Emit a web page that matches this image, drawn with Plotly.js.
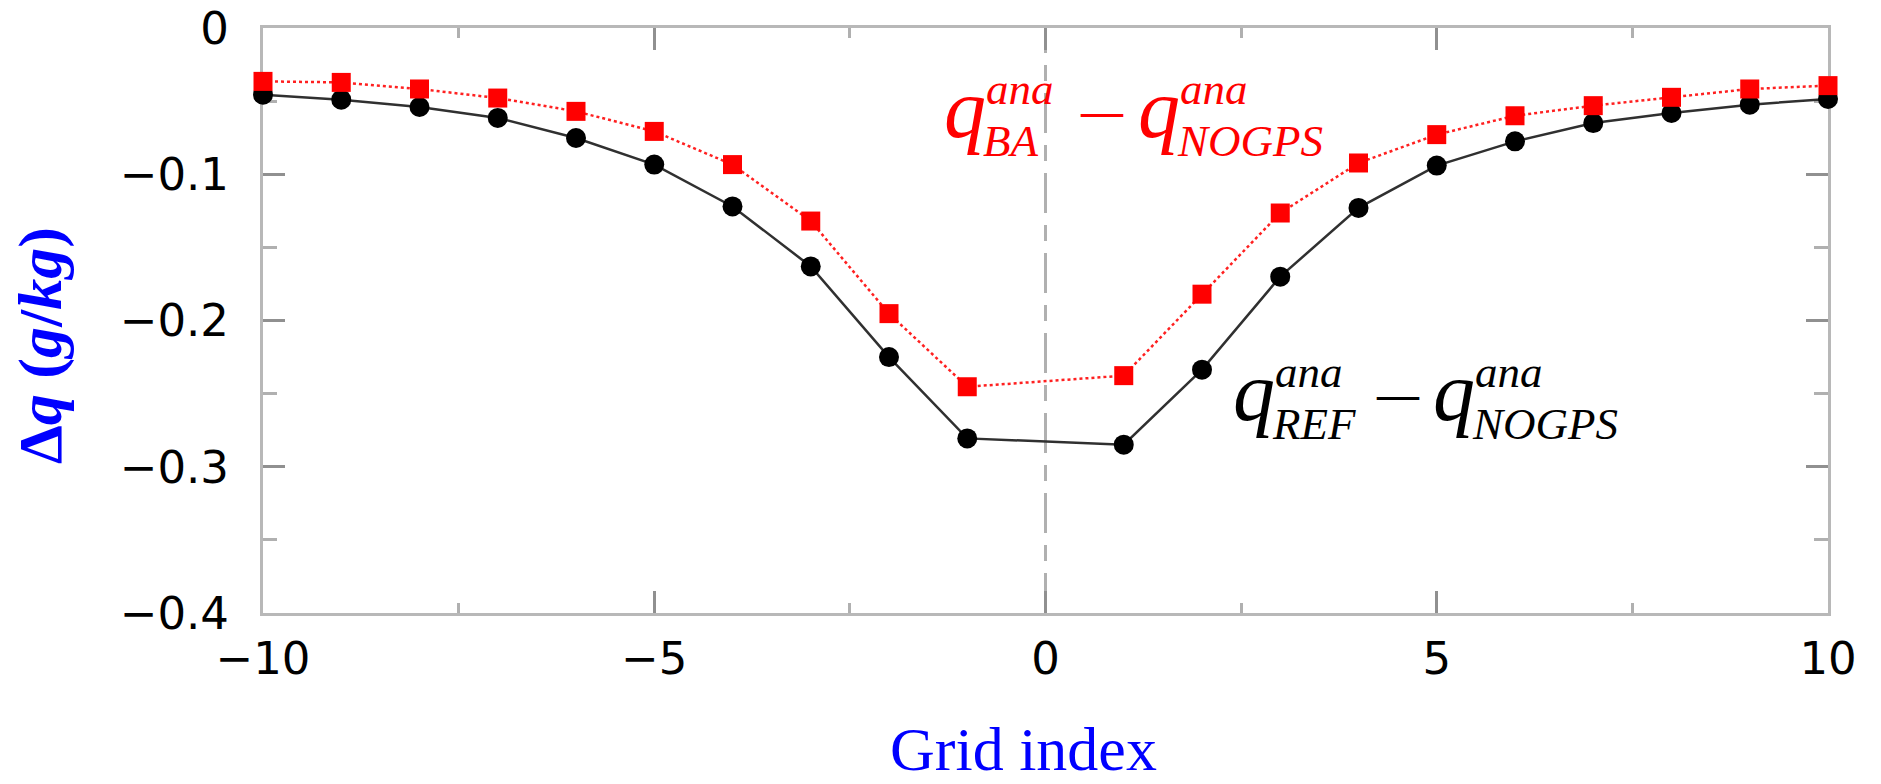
<!DOCTYPE html>
<html>
<head>
<meta charset="utf-8">
<script src="https://cdn.plot.ly/plotly-3.0.1.min.js"></script>
<style>
  html, body { margin: 0; padding: 0; background: #ffffff; }
  #chart { width: 1881px; height: 784px; }
</style>
</head>
<body>
<div id="chart"></div>
<script>
// ---- data ----
const gridIndex = [-10, -9, -8, -7, -6, -5, -4, -3, -2, -1, 1, 2, 3, 4, 5, 6, 7, 8, 9, 10];
const refMinusNogps = [-0.0456, -0.0490, -0.0540, -0.0615, -0.0752, -0.0934, -0.1220, -0.1630, -0.2250, -0.2806,
                       -0.2849, -0.2336, -0.1700, -0.1230, -0.0941, -0.0775, -0.0650, -0.0581, -0.0524, -0.0485];
const baMinusNogps  = [-0.0365, -0.0372, -0.0417, -0.0479, -0.0570, -0.0707, -0.0934, -0.1320, -0.1953, -0.2453,
                       -0.2377, -0.1820, -0.1265, -0.0923, -0.0729, -0.0600, -0.0531, -0.0474, -0.0417, -0.0394];
const centerLineX = 0;
const xTitle = 'Grid index';
const yTitle = '<b>\u0394<i>q</i> (<i>g</i>/<i>kg</i>)</b>';

// ---- label builder (stacked super/subscript made of separate text pieces) ----
const serif = 'Liberation Serif';
function piece(text, ax, ay, dx, yshift, size, color, italic) {
  return {
    x: ax, y: ay, xref: 'x', yref: 'y',
    text: italic ? '<i>' + text + '</i>' : text,
    showarrow: false, xanchor: 'left', yanchor: 'middle',
    xshift: dx, yshift: yshift, borderpad: 0,
    font: { family: serif, size: size, color: color }
  };
}
function diffLabel(ax, ay, color, sub1, sub2, minusDx, q2Dx) {
  const big = 84, small = 45, dash = 42;
  const base = (s) => 0.3375 * s;           // box centre above baseline
  return [
    piece('q', ax, ay, 0, base(big), big, color, true),
    piece('ana', ax, ay, 42, 33 + base(small), small, color, true),
    piece(sub1, ax, ay, 39, -19 + base(small), small, color, true),
    piece('<b>\u2014</b>', ax, ay, minusDx, 22 + base(dash) - 0.25 * dash, dash, color, false),
    piece('q', ax, ay, q2Dx, base(big), big, color, true),
    piece('ana', ax, ay, q2Dx + 42, 33 + base(small), small, color, true),
    piece(sub2, ax, ay, q2Dx + 39, -19 + base(small), small, color, true)
  ];
}

const traces = [
  {
    x: gridIndex, y: refMinusNogps, type: 'scatter', mode: 'lines+markers',
    line: { color: '#303030', width: 2.5 },
    marker: { symbol: 'circle', size: 20, color: '#000000' },
    cliponaxis: false, showlegend: false
  },
  {
    x: gridIndex, y: baMinusNogps, type: 'scatter', mode: 'lines+markers',
    line: { color: '#ff2020', width: 2.5, dash: '3px,3px' },
    marker: { symbol: 'square', size: 19, color: '#ff0000' },
    cliponaxis: false, showlegend: false
  }
];

const axisCommon = {
  showline: true, linecolor: '#b8b8b8', linewidth: 3, mirror: 'allticks',
  ticks: 'inside', tickcolor: '#909090', tickwidth: 3, ticklen: 22,
  showgrid: false, zeroline: false, layer: 'below traces',
  tickfont: { family: 'DejaVu Sans', size: 45, color: '#000000' }
};

const annotations = []
  .concat(diffLabel(-1.31, -0.0745, '#ff0000', 'BA', 'NOGPS', 136, 194))
  .concat(diffLabel(2.383, -0.268, '#000000', 'REF', 'NOGPS', 143, 200))
  .concat([
    { x: -0.1425, y: 0.458, xref: 'paper', yref: 'paper', text: yTitle, textangle: -90,
      showarrow: false, xanchor: 'center', yanchor: 'middle',
      font: { family: serif, size: 62, color: '#0000ff' } },
    { x: 0.486, y: -0.233, xref: 'paper', yref: 'paper', text: xTitle,
      showarrow: false, xanchor: 'center', yanchor: 'middle',
      font: { family: serif, size: 62, color: '#0000ff' } }
  ]);

const layout = {
  width: 1881, height: 784,
  paper_bgcolor: '#ffffff', plot_bgcolor: '#ffffff',
  margin: { l: 263, r: 53, t: 28, b: 171 },
  xaxis: Object.assign({}, axisCommon, {
    range: [-10, 10], tickmode: 'linear', tick0: -10, dtick: 5,
    ticklabelstandoff: 4,
    minor: { dtick: 2.5, ticks: 'inside', ticklen: 10, tickwidth: 3, tickcolor: '#b0b0b0' }
  }),
  yaxis: Object.assign({}, axisCommon, {
    range: [-0.4, 0], tickmode: 'linear', tick0: 0, dtick: 0.1,
    ticklabelstandoff: 22,
    minor: { dtick: 0.05, ticks: 'inside', ticklen: 14, tickwidth: 3, tickcolor: '#b0b0b0' }
  }),
  shapes: [
    { type: 'line', xref: 'x', yref: 'paper', x0: centerLineX, x1: centerLineX, y0: 0, y1: 1,
      line: { color: '#b0b0b0', width: 3, dash: '40px,12px,16px,12px' }, layer: 'below' }
  ],
  annotations: annotations
};

Plotly.newPlot('chart', traces, layout, { displayModeBar: false, staticPlot: true });
</script>
</body>
</html>
